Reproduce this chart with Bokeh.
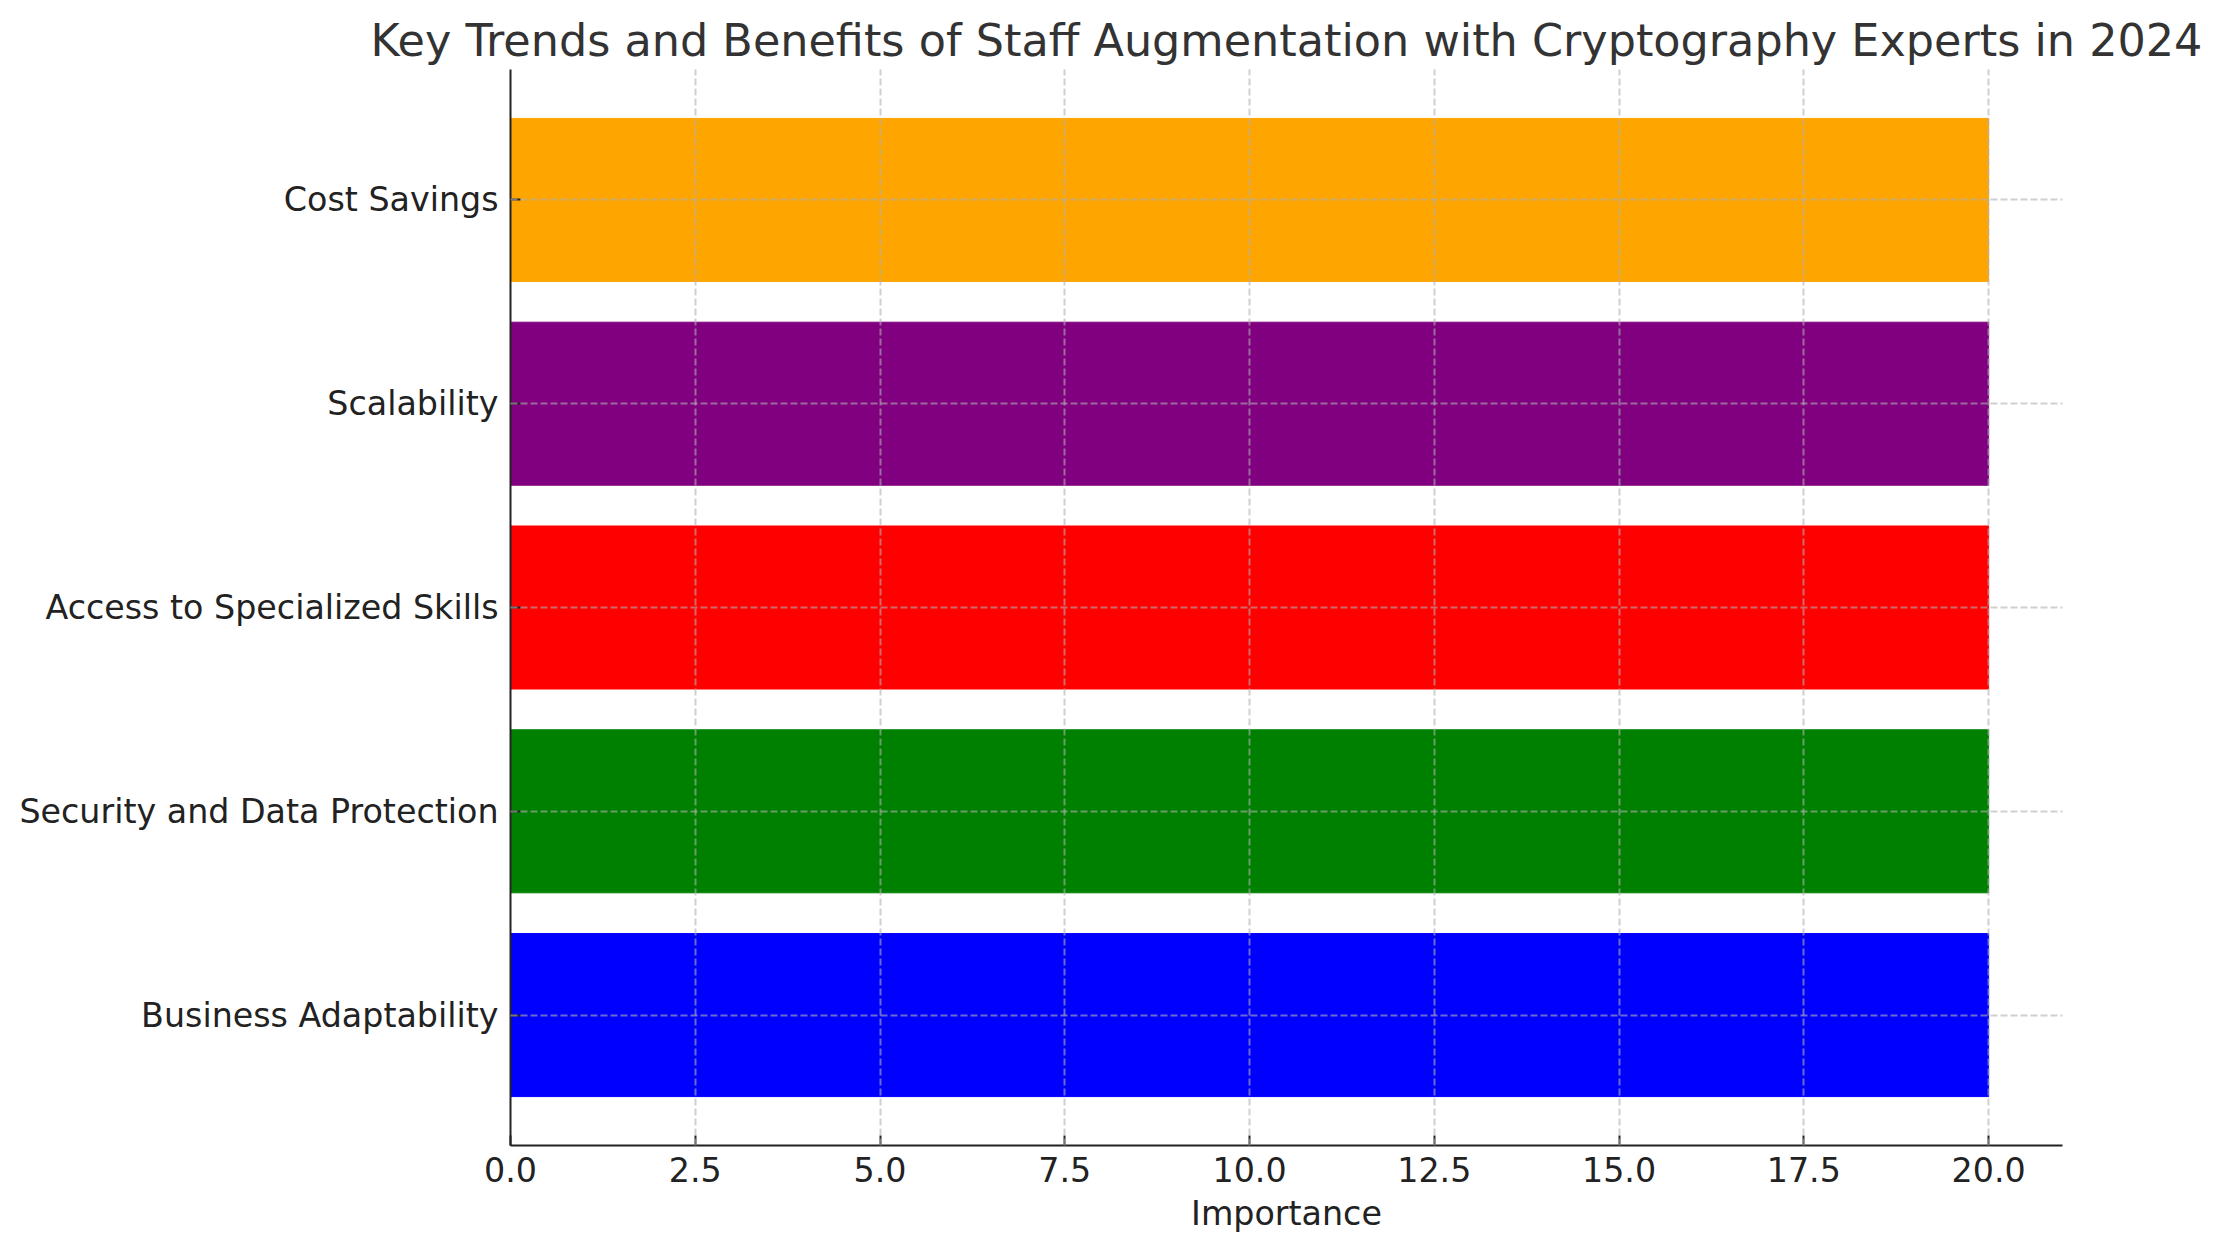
from bokeh.plotting import figure
from bokeh.models import Range1d, FixedTicker, ColumnDataSource
from bokeh.embed import file_html
from bokeh.resources import INLINE

categories = ["Business Adaptability", "Security and Data Protection",
              "Access to Specialized Skills", "Scalability", "Cost Savings"]
importance = [20, 20, 20, 20, 20]
colors = ["blue", "green", "red", "purple", "orange"]
x_ticks = [0.0, 2.5, 5.0, 7.5, 10.0, 12.5, 15.0, 17.5, 20.0]
x_tick_labels = ["0.0", "2.5", "5.0", "7.5", "10.0", "12.5", "15.0", "17.5", "20.0"]

positions = list(range(len(categories)))
src = ColumnDataSource(dict(y=positions, right=importance, color=colors))

FONT = "DejaVu Sans"

p = figure(width=2204, height=1239, output_backend="svg", toolbar_location=None,
           x_range=Range1d(0, max(importance) * 1.05),
           y_range=Range1d(-0.64, len(categories) - 1 + 0.64),
           min_border_left=510, min_border_right=142,
           min_border_top=69, min_border_bottom=94,
           title="Key Trends and Benefits of Staff Augmentation with Cryptography Experts in 2024")

p.hbar(y="y", left=0, right="right", height=0.8, color="color", source=src)

p.outline_line_color = None
p.background_fill_color = "white"
p.border_fill_color = "white"

p.title.align = "center"
p.title.text_font = FONT
p.title.text_font_size = "44.5px"
p.title.text_font_style = "normal"
p.title.text_color = "#333333"
p.title.standoff = 7

for ax in (p.xaxis[0], p.yaxis[0]):
    ax.axis_line_color = "#222222"
    ax.axis_line_width = 2
    ax.major_tick_line_color = "#222222"
    ax.major_tick_line_width = 2
    ax.major_tick_in = 10
    ax.major_tick_out = 0
    ax.minor_tick_line_color = None
    ax.major_label_text_font = FONT
    ax.major_label_text_font_size = "33.3px"
    ax.major_label_text_color = "#222222"

p.xaxis.ticker = FixedTicker(ticks=x_ticks)
p.xaxis.major_label_overrides = {t: l for t, l in zip(x_ticks, x_tick_labels)}
p.xaxis.major_label_standoff = 11
p.xaxis.axis_label = "Importance"
p.xaxis.axis_label_text_font = FONT
p.xaxis.axis_label_text_font_size = "33.3px"
p.xaxis.axis_label_text_font_style = "normal"
p.xaxis.axis_label_text_color = "#222222"
p.xaxis.axis_label_standoff = 9

p.yaxis.ticker = FixedTicker(ticks=positions)
p.yaxis.major_label_overrides = {i: c for i, c in zip(positions, categories)}
p.yaxis.major_label_standoff = 12

for g in (p.xgrid[0], p.ygrid[0]):
    g.grid_line_color = "#b0b0b0"
    g.grid_line_alpha = 0.6
    g.grid_line_width = 2
    g.grid_line_dash = "7 3"
    g.level = "overlay"
p.xgrid.ticker = FixedTicker(ticks=x_ticks)
p.ygrid.ticker = FixedTicker(ticks=positions)

open("out.html", "w").write(file_html(p, INLINE))
